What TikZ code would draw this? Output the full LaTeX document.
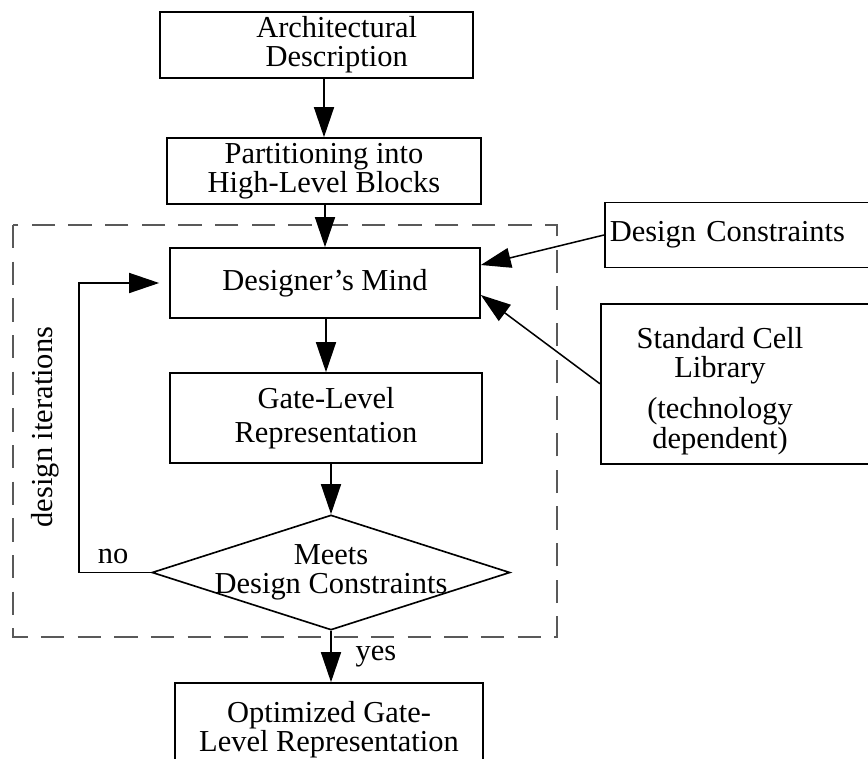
\documentclass[tikz,border=0pt]{standalone}
\usepackage{fontspec}
\setmainfont{Liberation Serif}
\usetikzlibrary{arrows.meta,shapes.geometric}
\begin{document}
\begin{tikzpicture}[
  every node/.style={font=\fontsize{26}{25}\selectfont},
  box/.style={draw,line width=1.4pt,align=center,inner sep=0pt},
  arrow/.style={-{Triangle[length=0.9cm,width=0.6cm]},line width=1.3pt}
]

\clip (0,0) rectangle (26.04,-22.74);

% dashed frame
\draw[dashed,dash pattern=on 0.7cm off 0.4cm,line width=1.5pt,gray!70!black] (0.39,-6.75) rectangle (16.71,-19.11);

\node[box,minimum width=9.39cm,minimum height=1.98cm] (arch) at (9.50,-1.35){\hspace*{1.2cm}Architectural\\\hspace*{1.2cm}Description};

\node[box,minimum width=9.42cm,minimum height=1.98cm] (part) at (9.72,-5.13){Partitioning into\\High-Level Blocks};

\node[box,minimum width=9.3cm,minimum height=2.1cm] (mind) at (9.75,-8.49){Designer's Mind};

\node[box,minimum width=9.36cm,minimum height=2.7cm] (gate) at (9.78,-12.54){Gate-Level\\[4pt]Representation};

\node[box,diamond,aspect=3.11,minimum width=10.74cm,minimum height=3.45cm] (meets) at (9.93,-17.175){\makebox[0pt]{Meets}\\\makebox[0pt]{Design Constraints}};

\node[box,minimum width=9.24cm,minimum height=2.8cm] (opt) at (9.87,-21.89){Optimized Gate-\\Level Representation};

\node[box,anchor=west,text width=8.5cm,minimum height=1.95cm,align=left,inner xsep=0.15cm] (dc) at (18.12,-7.05){Design Constraints};

\node[box,anchor=north west,minimum width=9cm,minimum height=4.8cm] (lib) at (18.0,-9.09){};
\node[align=center] (libtxt) at (21.6,-11.73){Standard Cell\\Library\\[10pt](technology\\dependent)};

\draw[arrow] (arch.south -| part.north) -- (part.north);
\draw[arrow] (part.south -| mind.north) -- (mind.north);
\draw[arrow] (mind.south -| gate.north) -- (gate.north);
\draw[arrow] (gate.south -| meets.north) -- (meets.north);
\draw[arrow] (meets.south) -- node[right=0.6cm] (yes){yes} (meets.south |- opt.north);

\draw[arrow] (dc.west) -- ([yshift=0.54cm]mind.east);
\draw[arrow] (lib.west) -- ([yshift=-0.36cm]mind.east);

% iteration loop
\draw[arrow,shorten >=0.3cm] (meets.west) -| ([xshift=-2.7cm]mind.west) -- (mind.west);
\node (no) at (3.39,-16.68){no};
\node[rotate=90] (iter) at (1.35,-12.81){design iterations};

\end{tikzpicture}
\end{document}
